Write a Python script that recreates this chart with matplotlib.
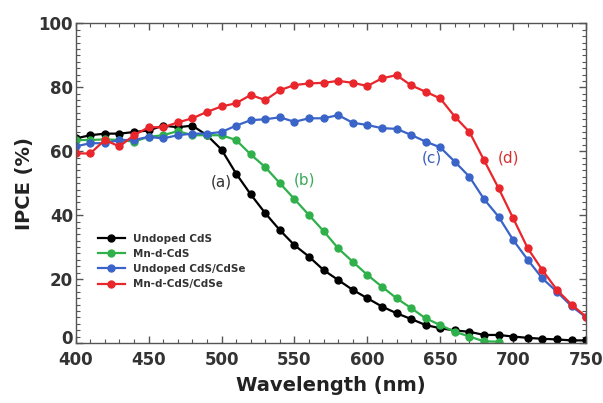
import numpy as np
import matplotlib
matplotlib.use('Agg')
import matplotlib.pyplot as plt
from matplotlib.ticker import MultipleLocator
from matplotlib.transforms import ScaledTranslation

wavelength = list(range(400, 760, 10))

undoped_cds = [64, 65, 65.5, 65.5, 66, 66.5, 68, 67.5, 68, 65,
               60.5, 53, 46.5, 40.6, 35.3, 30.6, 27, 22.8, 19.7, 16.6,
               14, 11.4, 9.3, 7.5, 5.6, 4.6, 3.9, 3.5, 2.5, 2.5,
               2, 1.6, 1.3, 1.1, 0.8, 0.8]

# Mn-d-CdS stops at 690 nm
wavelength_mn = list(range(400, 700, 10))
mn_cds = [63.5, 63.5, 63.7, 63.5, 63, 64.5, 65, 66.3, 65, 65,
          65, 63.5, 59, 55, 50, 45, 40, 35, 29.6, 25.4,
          21.3, 17.6, 14, 10.9, 7.7, 5.6, 3.5, 2, 0.5, 0.4]

undoped_cdse = [61.5, 62.5, 62.5, 63.5, 63.5, 64.5, 64, 65, 65.5, 65.5,
                66, 68, 69.7, 70, 70.6, 69.2, 70.3, 70.3, 71.3, 68.9,
                68.2, 67.2, 67, 65.1, 63, 61.2, 56.7, 52, 45, 39.5,
                32.2, 26, 20.2, 16, 11.5, 8]

mn_cdse = [59.3, 59.3, 63.5, 61.5, 65, 67.5, 67.5, 69, 70.3, 72.3,
           74, 75, 77.6, 76, 79.1, 80.7, 81.2, 81.4, 82, 81.4,
           80.4, 82.8, 83.8, 80.6, 78.6, 76.5, 70.8, 66, 57.2, 48.4,
           39, 29.6, 22.8, 16.6, 12, 8.2]

labels = ['Undoped CdS', 'Mn-d-CdS', 'Undoped CdS/CdSe', 'Mn-d-CdS/CdSe']
colors = ['#000000', '#2fb04a', '#3a64c8', '#e8262b']

fig = plt.figure(figsize=(6.03, 4.03), dpi=100)
ax = fig.add_axes([0.1255, 0.149, 0.8465, 0.793])

series = [(wavelength, undoped_cds), (wavelength_mn, mn_cds),
          (wavelength, undoped_cdse), (wavelength, mn_cdse)]
for (x, y), lab, c in zip(series, labels, colors):
    ax.plot(x, y, '-o', color=c, lw=1.6, ms=5, label=lab)

ax.set_xlim(400, 750)
ax.set_ylim(0, 100)
ax.xaxis.set_major_locator(MultipleLocator(50))
ax.xaxis.set_minor_locator(MultipleLocator(10))
ax.yaxis.set_major_locator(MultipleLocator(20))
ax.yaxis.set_minor_locator(MultipleLocator(2))
ax.tick_params(which='both', direction='in', top=True, right=True, colors='#555555',
               labelcolor='#333333')
ax.tick_params(which='major', length=5, width=1)
ax.tick_params(which='minor', length=3, width=0.8)
ax.tick_params(axis='x', which='major', pad=6)
ax.tick_params(axis='y', which='major', pad=2)
for s in ax.spines.values():
    s.set_color('#555555')
    s.set_linewidth(1)

ax.set_xlabel('Wavelength (nm)', fontsize=14, fontweight='bold', color='#222222', labelpad=5)
ax.set_ylabel('IPCE (%)', fontsize=14, fontweight='bold', color='#222222', labelpad=3)

ax.text(500, 50.5, '(a)', fontsize=11, color='#333333', ha='center', va='center')
ax.text(557, 51, '(b)', fontsize=11, color='#3aa85a', ha='center', va='center')
ax.text(644, 58, '(c)', fontsize=11, color='#3b5fc0', ha='center', va='center')
ax.text(697, 58, '(d)', fontsize=11, color='#d83030', ha='center', va='center')

leg = ax.legend(loc='lower left', bbox_to_anchor=(0.035, 0.155), frameon=False,
                fontsize=7.5, handlelength=2.6, labelspacing=0.5, borderaxespad=0)
for t in leg.get_texts():
    t.set_color('#333333')
    t.set_fontweight('bold')

fig.canvas.draw()
for tick in ax.xaxis.get_major_ticks() + ax.yaxis.get_major_ticks():
    tick.label1.set_fontsize(12)
    tick.label1.set_fontweight('bold')
# lift the "0" label a little so it sits above the "400"
for tick in ax.yaxis.get_major_ticks():
    if abs(tick.get_loc()) < 1e-9:
        lab = tick.label1
        lab.set_transform(lab.get_transform() + ScaledTranslation(0, 4 / 72, fig.dpi_scale_trans))

fig.savefig('out.png', dpi=100)
